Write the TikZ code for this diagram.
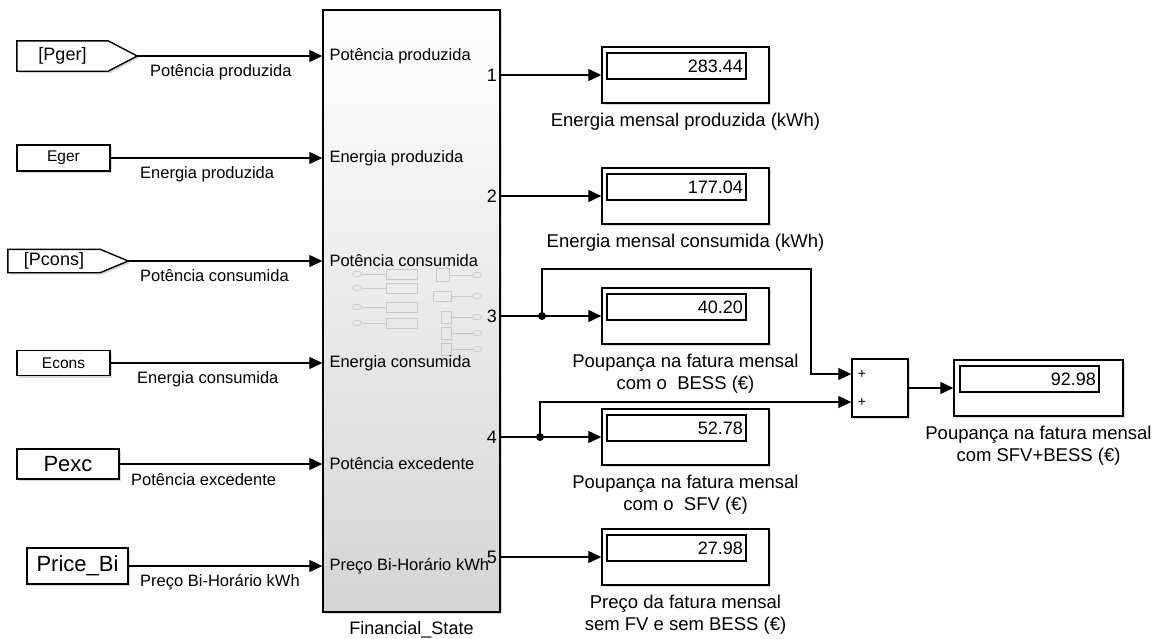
\documentclass[tikz,border=0pt]{standalone}
\usepackage{fontspec}
\setmainfont{Liberation Sans}
\usetikzlibrary{arrows.meta, positioning, shadows, calc}
\definecolor{blockgray}{HTML}{D4D4D4}
\definecolor{icongray}{HTML}{C8C8C8}

\begin{document}
\begin{tikzpicture}[x=1pt, y=-1pt,
    blk/.style={
      draw,
      line width=1.4pt,
      fill=white,
      inner sep=0pt,
      drop shadow={shadow xshift=2pt, shadow yshift=-2pt, opacity=0.3}
    },
    tagtext/.style={inner sep=0pt, font=\fontsize{18}{20}\selectfont},
    tagline/.style={blk},
    srcbox/.style={blk, font=\fontsize{15.5}{17}\selectfont},
    disp/.style={blk, minimum width=167, minimum height=56},
    val/.style={
      draw,
      line width=1.2pt,
      anchor=north west,
      minimum height=26,
      text width=133,
      inner sep=3pt,
      align=right,
      font=\fontsize{18}{20}\selectfont
    },
    sig/.style={font=\fontsize{16.5}{18}\selectfont, anchor=west, inner sep=0pt},
    num/.style={font=\fontsize{18}{20}\selectfont, inner sep=1pt},
    plus/.style={font=\fontsize{14}{14}\selectfont},
    dispcap/.style={font=\fontsize{18.5}{22.5}\selectfont, align=center, inner sep=0pt},
    arr/.style={-{Triangle[length=13pt, width=12pt]}, line width=1.2pt},
    dot/.style={circle, fill, inner sep=0pt, minimum size=8}
  ]
  \useasboundingbox (0,0) rectangle (1157,638);

  \node[blk, top color=white, bottom color=blockgray,
    minimum width=177, minimum height=602] (fs) at (411.5,311) {};
  \node[font=\fontsize{18}{20}\selectfont, below=5pt of fs] (fsname) {Financial\_State};

  \begin{scope}[icongray, line width=0.7pt]
    \foreach \y in {274,288,307,323} {
      \draw (357,\y) ellipse (4.5 and 2.8);
      \draw (361.5,\y) -- (386,\y);
      \draw (386,\y-5) rectangle (417,\y+5);
    }
    \foreach \y/\a/\b/\h in {275/436/449/6.5, 296/433/451/5, 317/441/451/6,
        333/441/451/6, 349/441/451/6} {
      \draw (\a,\y-\h) rectangle (\b,\y+\h);
      \draw (\b,\y) -- (472.5,\y);
      \draw (477,\y) ellipse (4.5 and 2.8);
    }
  \end{scope}

  \node[tagtext, minimum width=91, minimum height=30] (pger) at (62.5,56) {};
  \draw[tagline] (pger.north west) -- (pger.north east) -- ([xshift=29pt]pger.east) coordinate (pgertip)
    -- (pger.south east) -- (pger.south west) -- cycle;
  \node[tagtext] (tpger) at (pger) {[Pger]};
  \node[srcbox, minimum width=93, minimum height=26] (eger) at (63.5,158) {Eger};
  \node[tagtext, minimum width=92, minimum height=23] (pcons) at (54,261) {};
  \draw[tagline] (pcons.north west) -- (pcons.north east) -- ([xshift=28pt]pcons.east) coordinate (pconstip)
    -- (pcons.south east) -- (pcons.south west) -- cycle;
  \node[tagtext] (tpcons) at (pcons) {[Pcons]};
  \node[srcbox, minimum width=93, minimum height=25] (econs) at (63.5,363) {Econs};
  \node[srcbox, minimum width=102, minimum height=30, font=\fontsize{22}{24}\selectfont] (pexc) at (68,464) {Pexc};
  \node[srcbox, minimum width=101, minimum height=36, font=\fontsize{22}{24}\selectfont] (price) at (77.5,566) {Price\_Bi};

  \draw[arr] (pgertip) -- (pgertip -| fs.west);
  \draw[arr] (eger) -- (eger -| fs.west);
  \draw[arr] (pconstip) -- (pconstip -| fs.west);
  \draw[arr] (econs) -- (econs -| fs.west);
  \draw[arr] (pexc) -- (pexc -| fs.west);
  \draw[arr] (price) -- (price -| fs.west);

  \node[sig] (lpger) at (150,72) {Potência produzida};
  \node[sig] (leger) at (140,174) {Energia produzida};
  \node[sig] (lpcons) at (140,276) {Potência consumida};
  \node[sig] (lecons) at (137,379) {Energia consumida};
  \node[sig] (lpexc) at (131,480) {Potência excedente};
  \node[sig] (lprice) at (140,582) {Preço Bi-Horário kWh};

  \node[sig, right=7pt] (ip1) at (fs.west |- pger) {Potência produzida};
  \node[sig, right=7pt] (ip2) at (fs.west |- eger) {Energia produzida};
  \node[sig, right=7pt] (ip3) at (fs.west |- pcons) {Potência consumida};
  \node[sig, right=7pt] (ip4) at (fs.west |- econs) {Energia consumida};
  \node[sig, right=7pt] (ip5) at (fs.west |- pexc) {Potência excedente};
  \node[sig, right=7pt] (ip6) at (fs.west |- price) {Preço Bi-Horário kWh};

  \coordinate (o1) at (500,75);
  \coordinate (o2) at (500,196);
  \coordinate (o3) at (500,316);
  \coordinate (o4) at (500,437);
  \coordinate (o5) at (500,557);
  \node[num, left=2pt] (n1) at (o1) {1};
  \node[num, left=2pt] (n2) at (o2) {2};
  \node[num, left=2pt] (n3) at (o3) {3};
  \node[num, left=2pt] (n4) at (o4) {4};
  \node[num, left=2pt] (n5) at (o5) {5};

  \node[disp] (d1) at (685.5,75) {};
  \node[val] (v1) at ([shift={(5,6)}]d1.north west) {283.44};
  \node[dispcap, below=9pt of d1] (c1) {Energia mensal produzida (kWh)};

  \node[disp] (d2) at (685.5,196) {};
  \node[val] (v2) at ([shift={(5,6)}]d2.north west) {177.04};
  \node[dispcap, below=9pt of d2] (c2) {Energia mensal consumida (kWh)};

  \node[disp] (d3) at (685.5,316) {};
  \node[val] (v3) at ([shift={(5,6)}]d3.north west) {40.20};
  \node[dispcap, below=9pt of d3] (c3) {Poupança na fatura mensal\\com o\ \ BESS (€)};

  \node[disp] (d4) at (685.5,437) {};
  \node[val] (v4) at ([shift={(5,6)}]d4.north west) {52.78};
  \node[dispcap, below=9pt of d4] (c4) {Poupança na fatura mensal\\com o\ \ SFV (€)};

  \node[disp] (d5) at (685.5,557) {};
  \node[val] (v5) at ([shift={(5,6)}]d5.north west) {27.98};
  \node[dispcap, below=9pt of d5] (c5) {Preço da fatura mensal\\sem FV e sem BESS (€)};

  \node[blk, minimum width=56, minimum height=58] (sum) at (880,388) {};
  \coordinate (s1) at ([yshift=14pt]sum.west);
  \coordinate (s2) at ([yshift=-14pt]sum.west);
  \node[plus, right=3pt] (pl1) at (s1) {+};
  \node[plus, right=3pt] (pl2) at (s2) {+};

  \node[disp, minimum width=169] (d6) at (1038.5,388) {};
  \node[val] (v6) at ([shift={(6,6)}]d6.north west) {92.98};
  \node[dispcap, below=9pt of d6] (c6) {Poupança na fatura mensal\\com SFV+BESS (€)};

  \draw[arr] (o1) -- (d1);
  \draw[arr] (o2) -- (d2);
  \draw[arr] (o3) -- (d3);
  \draw[arr] (o4) -- (d4);
  \draw[arr] (o5) -- (d5);

  \node[dot] (j3) at (542,316) {};
  \node[dot] (j4) at (540,437) {};
  \coordinate (k3) at (811,269);
  \draw[arr] (j3.center) |- (k3) |- (s1);
  \draw[arr] (j4.center) |- (s2);
  \draw[arr] (sum) -- (d6);
\end{tikzpicture}
\end{document}
